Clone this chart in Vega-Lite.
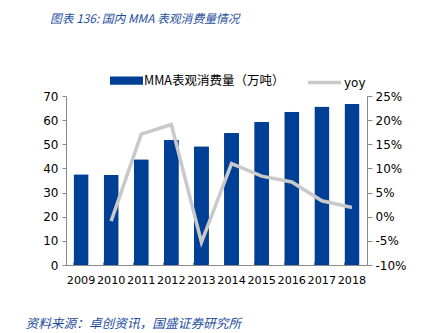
{
  "$schema": "https://vega.github.io/schema/vega-lite/v6.json",
  "width": 301,
  "height": 169,
  "autosize": {"type": "none"},
  "padding": {"left": 66, "top": 96, "right": 73, "bottom": 68},
  "background": "white",
  "title": {
    "text": "图表 136:  国内 MMA 表观消费量情况",
    "anchor": "start",
    "frame": "group",
    "dx": -16,
    "offset": 38,
    "font": "Noto Sans CJK SC",
    "fontStyle": "italic",
    "fontWeight": "normal",
    "fontSize": 11.8,
    "color": "#1F4E9E"
  },
  "data": {
    "values": [
      {"year": "2009", "value": 37.6, "yoy": null},
      {"year": "2010", "value": 37.4, "yoy": -0.9},
      {"year": "2011", "value": 43.8, "yoy": 17.1},
      {"year": "2012", "value": 51.9, "yoy": 19.1},
      {"year": "2013", "value": 49.2, "yoy": -5.3},
      {"year": "2014", "value": 54.7, "yoy": 11.0},
      {"year": "2015", "value": 59.2, "yoy": 8.4},
      {"year": "2016", "value": 63.5, "yoy": 7.2},
      {"year": "2017", "value": 65.6, "yoy": 3.3},
      {"year": "2018", "value": 66.7, "yoy": 1.9}
    ]
  },
  "encoding": {
    "x": {
      "field": "year",
      "type": "ordinal",
      "scale": {"paddingInner": 0.5, "paddingOuter": 0.25},
      "axis": {
        "title": "资料来源：卓创资讯，国盛证券研究所",
        "titleFont": "Noto Sans CJK SC",
        "titleFontStyle": "italic",
        "titleFontWeight": "normal",
        "titleFontSize": 12.7,
        "titleColor": "#1F4E9E",
        "titleAnchor": "start",
        "titleAlign": "left",
        "titleX": -41,
        "titleY": 62,
        "titleBaseline": "alphabetic",
        "labelAngle": 0,
        "labelFont": "DejaVu Sans",
        "labelFontSize": 11.2,
        "labelColor": "#000000",
        "labelPadding": 12,
        "bandPosition": 0,
        "tickSize": -3,
        "tickColor": "#888888",
        "domainColor": "#888888"
      }
    }
  },
  "layer": [
    {
      "mark": {"type": "bar", "cornerRadius": 1},
      "encoding": {
        "y": {
          "field": "value",
          "type": "quantitative",
          "scale": {"domain": [0, 70]},
          "axis": {
            "title": null,
            "values": [0, 10, 20, 30, 40, 50, 60, 70],
            "grid": false,
            "labelFont": "DejaVu Sans",
            "labelFontSize": 12,
            "labelColor": "#000000",
            "tickSize": 4,
            "tickColor": "#888888",
            "domainColor": "#888888",
            "labelPadding": 4
          }
        },
        "fill": {
          "datum": "MMA表观消费量（万吨）",
          "scale": {"range": ["#003F96"]},
          "legend": {
            "title": null,
            "orient": "none",
            "legendX": 44,
            "legendY": -32,
            "symbolType": "M-1,-0.25h2v0.5h-2z",
            "symbolSize": 1089,
            "symbolStrokeWidth": 0,
            "labelFont": "Noto Sans CJK SC",
            "labelFontSize": 12.5,
            "labelColor": "#000000",
            "labelOffset": 1
          }
        }
      }
    },
    {
      "mark": {"type": "line", "strokeWidth": 3.5, "strokeJoin": "miter"},
      "encoding": {
        "y": {
          "field": "yoy",
          "type": "quantitative",
          "scale": {"domain": [-10, 25]},
          "axis": {
            "title": null,
            "orient": "right",
            "values": [-10, -5, 0, 5, 10, 15, 20, 25],
            "labelExpr": "datum.value + '%'",
            "grid": false,
            "labelFont": "DejaVu Sans",
            "labelFontSize": 12,
            "labelColor": "#000000",
            "tickSize": 5,
            "tickColor": "#888888",
            "domainColor": "#888888",
            "labelPadding": 3
          }
        },
        "stroke": {
          "datum": "yoy",
          "scale": {"range": ["#C9C9C9"]},
          "legend": {
            "title": null,
            "orient": "none",
            "legendX": 240,
            "legendY": -32,
            "symbolType": "stroke",
            "symbolSize": 1089,
            "symbolStrokeWidth": 3.5,
            "labelFont": "DejaVu Sans",
            "labelFontSize": 12,
            "labelColor": "#000000",
            "labelOffset": 1
          }
        }
      }
    }
  ],
  "resolve": {"scale": {"y": "independent"}},
  "config": {"view": {"stroke": null}}
}
